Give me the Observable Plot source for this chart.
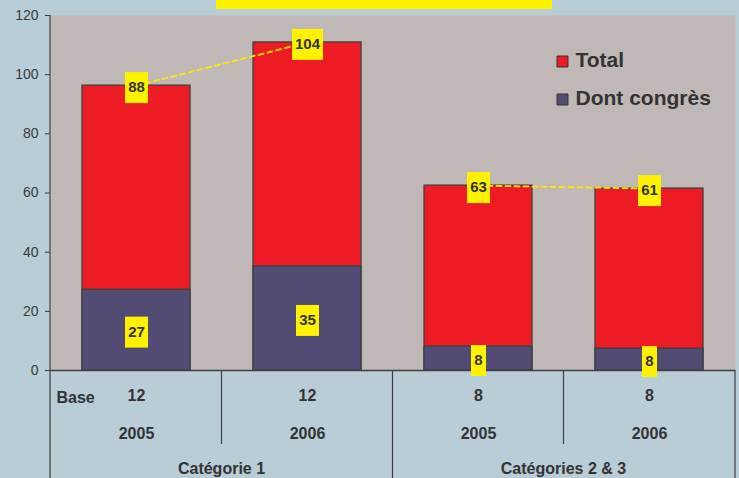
<!DOCTYPE html>
<html><head><meta charset="utf-8">
<script src="https://cdn.jsdelivr.net/npm/d3@7"></script>
<script src="https://cdn.jsdelivr.net/npm/@observablehq/plot@0.6"></script>
<style>
html,body{margin:0;padding:0;background:#b8cdd6;}
#chart{position:relative;width:739px;height:478px;overflow:hidden}
</style></head><body><div id="chart"></div>
<script>
// ---- data ----
const keys = ["C1-2005", "C1-2006", "C23-2005", "C23-2006"];
const years = ["2005", "2006", "2005", "2006"];
const groups = ["Catégorie 1", "Catégorie 1", "Catégories 2 & 3", "Catégories 2 & 3"];
const groupNames = ["Catégorie 1", "Catégories 2 & 3"];
const bases = [12, 12, 8, 8];
const totalBar = [96.3, 110.9, 62.5, 61.5];
const totalLabels = [88, 104, 63, 61];
const congresBar = [27.3, 35.2, 8.1, 7.4];
const congresLabels = [27, 35, 8, 8];
const yTicks = [0, 20, 40, 60, 80, 100, 120];
const seriesNames = ["Total", "Dont congrès"];
const baseLabel = "Base";

// ---- style ----
const RED = "#ed1c24", PURPLE = "#524c74", YELLOW = "#fff200", DARK = "#333333";
const BOLD = "'Liberation Sans', Arial, sans-serif";

const data = keys.map((k, i) => ({
  key: k, year: years[i], group: groups[i], base: bases[i],
  total: totalBar[i], totalLabel: totalLabels[i],
  congres: congresBar[i], congresLabel: congresLabels[i]
}));
const labels = [
  ...data.map(d => ({key: d.key, y: d.total, text: String(d.totalLabel)})),
  ...data.map(d => ({key: d.key, y: d.congres / 2, text: String(d.congresLabel)}))
];
function boxSymbol(w, h) {
  return {draw(ctx) {
    ctx.moveTo(-w / 2, -h / 2); ctx.lineTo(w / 2, -h / 2);
    ctx.lineTo(w / 2, h / 2); ctx.lineTo(-w / 2, h / 2); ctx.closePath();
  }};
}
const boxMarks = [1, 2, 3].map(n => Plot.dot(labels.filter(d => d.text.length === n), {
  x: "key", y: "y", dy: 2, symbol: boxSymbol(8 * n + 7, 31), fill: YELLOW, stroke: null
}));
const tableText = {fill: DARK, fontWeight: "bold", fontSize: 16, fontFamily: BOLD, lineAnchor: "middle"};

const plot = Plot.plot({
  width: 739, height: 478,
  marginLeft: 50, marginRight: 4, marginTop: 15, marginBottom: 108,
  style: {background: "transparent", fontFamily: "'Liberation Sans', Arial, sans-serif", fontSize: "14px", color: "#3a3a3a"},
  x: {type: "band", domain: keys, paddingInner: 0.37, paddingOuter: 0.185, axis: null},
  y: {domain: [0, 120], ticks: yTicks, tickSize: 5, tickPadding: 7, label: null},
  marks: [
    Plot.frame({fill: "#c0b8b6", stroke: null}),
    Plot.barY(data, {x: "key", y: "total", fill: RED, stroke: "#404040", strokeWidth: 1.3}),
    Plot.barY(data, {x: "key", y: "congres", fill: PURPLE, stroke: "#404040", strokeWidth: 1.3}),
    Plot.ruleY([0], {stroke: "#404040", strokeWidth: 1.3}),
    Plot.line(data, {x: "key", y: "total", z: "group", stroke: "#ffe600", strokeWidth: 1.8, strokeDasharray: "5,4"}),
    ...boxMarks,
    Plot.text(labels, {x: "key", y: "y", dy: 2, text: "text", fill: DARK, fontWeight: "bold", fontSize: 15, fontFamily: BOLD}),
    // table below the axis
    Plot.text([baseLabel], {frameAnchor: "bottom-left", dx: 6, dy: 27, text: d => d, textAnchor: "start", ...tableText}),
    Plot.text(data, {x: "key", frameAnchor: "bottom", dy: 25, text: "base", ...tableText}),
    Plot.text(data, {x: "key", frameAnchor: "bottom", dy: 63, text: "year", ...tableText}),
    // legend
    Plot.dot([0], {frameAnchor: "top-left", dx: 512, dy: 46, symbol: "square", r: 6.2, fill: RED, stroke: DARK, strokeWidth: 1}),
    Plot.dot([0], {frameAnchor: "top-left", dx: 512, dy: 84, symbol: "square", r: 6.2, fill: PURPLE, stroke: DARK, strokeWidth: 1}),
    Plot.text([seriesNames[0]], {frameAnchor: "top-left", dx: 525, dy: 45, text: d => d, textAnchor: "start", lineAnchor: "middle", fill: DARK, fontWeight: "bold", fontSize: 21}),
    Plot.text([seriesNames[1]], {frameAnchor: "top-left", dx: 525, dy: 83, text: d => d, textAnchor: "start", lineAnchor: "middle", fill: DARK, fontWeight: "bold", fontSize: 21})
  ]
});
document.getElementById("chart").appendChild(plot);

// ---- category table lines and group labels, from Plot's x scale ----
const xs = plot.scale("x");
const svg = d3.select(plot);
const [x0, x1] = xs.range;
const yBase = 370, yBottom = 478, yInner = 444;
const g = svg.append("g").attr("stroke", "#404040").attr("stroke-width", 1.2);
g.append("line").attr("x1", x0).attr("x2", x0).attr("y1", 15).attr("y2", yBottom);
g.append("line").attr("x1", x1).attr("x2", x1).attr("y1", yBase).attr("y2", yBottom);
for (let i = 0; i < keys.length - 1; i++) {
  const xm = xs.apply(keys[i]) + xs.bandwidth + (xs.step - xs.bandwidth) / 2;
  const full = groups[i] !== groups[i + 1];
  g.append("line").attr("x1", xm).attr("x2", xm).attr("y1", yBase).attr("y2", full ? yBottom : yInner);
}
groupNames.forEach(name => {
  const ks = keys.filter((k, i) => groups[i] === name);
  const a = xs.apply(ks[0]) - (xs.step - xs.bandwidth) / 2;
  const b = xs.apply(ks[ks.length - 1]) + xs.bandwidth + (xs.step - xs.bandwidth) / 2;
  svg.append("text").attr("x", (a + b) / 2).attr("y", 468).attr("dy", "0.35em")
    .attr("text-anchor", "middle").attr("font-family", BOLD).attr("font-weight", "bold")
    .attr("font-size", 16).attr("fill", DARK).text(name);
});
// ---- title box (cut off at the top of the picture) ----
svg.append("rect").attr("x", 216).attr("y", 0).attr("width", 336).attr("height", 9).attr("fill", YELLOW);
</script></body></html>
